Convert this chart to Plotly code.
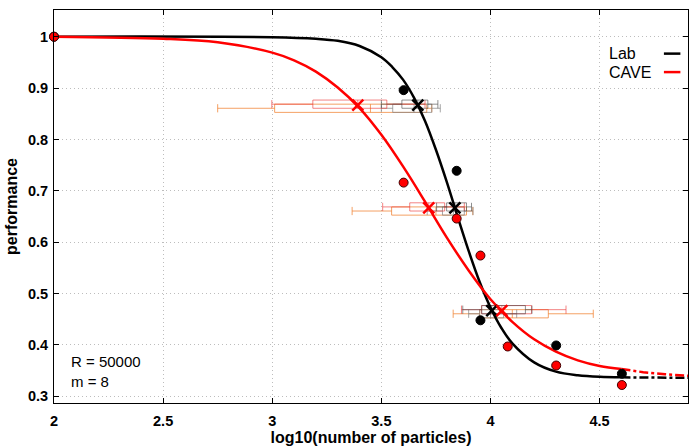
import plotly.graph_objects as go

# ---------------- data ----------------
x_ticks = [2, 2.5, 3, 3.5, 4, 4.5]
x_tick_labels = ["2", "2.5", "3", "3.5", "4", "4.5"]
y_ticks = [0.3, 0.4, 0.5, 0.6, 0.7, 0.8, 0.9, 1.0]
y_tick_labels = ["0.3", "0.4", "0.5", "0.6", "0.7", "0.8", "0.9", "1"]

# measured points
lab_x = [2.0, 3.602, 3.845, 3.954, 4.301, 4.602]
lab_y = [1.0, 0.896, 0.739, 0.448, 0.399, 0.344]
cave_x = [2.0, 3.602, 3.845, 3.954, 4.079, 4.301, 4.602]
cave_y = [1.0, 0.716, 0.646, 0.574, 0.397, 0.360, 0.322]

# fitted curves
lab_fit_x = [2.0, 3.0, 3.2, 3.3, 3.4, 3.5, 3.55, 3.6, 3.65, 3.7, 3.75, 3.8, 3.85,
             3.9, 3.95, 4.0, 4.05, 4.1, 4.2, 4.3, 4.4, 4.5, 4.6]
lab_fit_y = [1.0, 0.999, 0.996, 0.992, 0.982, 0.960, 0.941, 0.916, 0.881, 0.836,
             0.780, 0.717, 0.649, 0.583, 0.523, 0.473, 0.433, 0.403, 0.366, 0.348,
             0.341, 0.338, 0.337]
lab_ext_x = [4.6, 4.75, 4.905]
lab_ext_y = [0.337, 0.336, 0.336]

cave_fit_x = [2.0, 2.5, 2.75, 3.0, 3.1, 3.2, 3.3, 3.4, 3.5, 3.6, 3.7, 3.8, 3.9,
              4.0, 4.1, 4.2, 4.3, 4.4, 4.5, 4.6]
cave_fit_y = [1.0, 0.996, 0.989, 0.969, 0.954, 0.932, 0.901, 0.861, 0.809, 0.747,
              0.679, 0.609, 0.545, 0.489, 0.445, 0.411, 0.387, 0.370, 0.359, 0.353]
cave_ext_x = [4.6, 4.7, 4.8, 4.905]
cave_ext_y = [0.353, 0.347, 0.343, 0.340]

# threshold levels and estimated thresholds (crosses)
levels = [0.8667, 0.6667, 0.4667]
lab_thr_x = [3.667, 3.837, 4.006]
cave_thr_x = [3.392, 3.717, 4.052]

# box summaries at each level
lab_a_lo = [3.50, 3.753, 3.873]
lab_a_q1 = [3.594, 3.799, 3.960]
lab_a_med = [3.667, 3.837, 4.006]
lab_a_q3 = [3.713, 3.890, 4.160]
lab_a_hi = [3.759, 3.913, 4.190]

lab_b_lo = [3.50, 3.71, 3.90]
lab_b_q1 = [3.552, 3.78, 3.95]
lab_b_med = [3.65, 3.83, 4.00]
lab_b_q3 = [3.731, 3.88, 4.06]
lab_b_hi = [3.77, 3.92, 4.12]

cave_a_lo = [2.998, 3.506, 3.867]
cave_a_q1 = [3.186, 3.630, 3.959]
cave_a_med = [3.392, 3.717, 4.052]
cave_a_q3 = [3.525, 3.790, 4.188]
cave_a_hi = [3.70, 3.88, 4.346]

cave_b_lo = [2.750, 3.366, 3.829]
cave_b_q1 = [3.011, 3.547, 3.951]
cave_b_med = [3.45, 3.75, 4.10]
cave_b_q3 = [3.708, 3.890, 4.265]
cave_b_hi = [3.731, 3.919, 4.471]

FONT = "Liberation Sans, Arial, sans-serif"

# ---------------- figure ----------------
fig = go.Figure()

def add_box(lo, q1, med, q3, hi, offset, color):
    fig.add_trace(go.Box(
        y=[lv + offset for lv in levels], lowerfence=lo, q1=q1, median=med, q3=q3,
        upperfence=hi, orientation="h", width=0.016, whiskerwidth=1,
        line=dict(color=color, width=1), fillcolor="rgba(0,0,0,0)",
        boxpoints=False, showlegend=False, hoverinfo="skip"))

add_box(cave_b_lo, cave_b_q1, cave_b_med, cave_b_q3, cave_b_hi, -0.006, "rgba(240,130,50,0.75)")
add_box(lab_b_lo, lab_b_q1, lab_b_med, lab_b_q3, lab_b_hi, -0.006, "rgba(130,130,130,0.7)")
add_box(cave_a_lo, cave_a_q1, cave_a_med, cave_a_q3, cave_a_hi, 0.002, "rgba(235,50,50,0.6)")
add_box(lab_a_lo, lab_a_q1, lab_a_med, lab_a_q3, lab_a_hi, 0.002, "rgba(70,70,70,0.6)")

# fitted curves
fig.add_trace(go.Scatter(x=lab_fit_x, y=lab_fit_y, mode="lines", line=dict(color="black", width=2.5, shape="spline"), showlegend=False))
fig.add_trace(go.Scatter(x=lab_ext_x, y=lab_ext_y, mode="lines", line=dict(color="black", width=2.5, dash="dashdot"), showlegend=False))
fig.add_trace(go.Scatter(x=cave_fit_x, y=cave_fit_y, mode="lines", line=dict(color="red", width=2.5, shape="spline"), showlegend=False))
fig.add_trace(go.Scatter(x=cave_ext_x, y=cave_ext_y, mode="lines", line=dict(color="red", width=2.5, dash="dashdot"), showlegend=False))

# measured points
fig.add_trace(go.Scatter(x=lab_x, y=lab_y, mode="markers", cliponaxis=False,
                         marker=dict(color="black", size=9, line=dict(color="black", width=1)), showlegend=False))
fig.add_trace(go.Scatter(x=cave_x, y=cave_y, mode="markers", cliponaxis=False,
                         marker=dict(color="red", size=9, line=dict(color="#400000", width=1)), showlegend=False))

# threshold crosses
fig.add_trace(go.Scatter(x=lab_thr_x, y=levels, mode="markers",
                         marker=dict(symbol="x-thin", size=11, line=dict(color="black", width=2.5)), showlegend=False))
fig.add_trace(go.Scatter(x=cave_thr_x, y=levels, mode="markers",
                         marker=dict(symbol="x-thin", size=11, line=dict(color="red", width=2.5)), showlegend=False))

# legend (text left, sample line right)
legend_entries = [("Lab", "black", 0.889), ("CAVE", "red", 0.842)]
for name, col, yp in legend_entries:
    fig.add_annotation(x=0.872, y=yp, xref="paper", yref="paper", text=name, showarrow=False,
                       xanchor="left", yanchor="middle",
                       font=dict(family=FONT, size=16, color="black"))
    fig.add_shape(type="line", xref="paper", yref="paper", x0=0.962, x1=0.988, y0=yp, y1=yp,
                  line=dict(color=col, width=2.5))

fig.add_annotation(x=0.023, y=0.08, xref="paper", yref="paper", text="R = 50000<br>m = 8",
                   showarrow=False, xanchor="left", yanchor="middle", align="left",
                   font=dict(family=FONT, size=15, color="black"))

axis_common = dict(showline=True, mirror="allticks", linecolor="black", linewidth=1,
                   ticks="inside", ticklen=5, tickcolor="black", automargin=False,
                   showgrid=True, gridcolor="#bdbdbd", griddash="1px,3px", gridwidth=1,
                   zeroline=False,
                   tickfont=dict(family=FONT, size=14.5, color="black", weight="bold"))

fig.update_xaxes(range=[2, 4.905], tickvals=x_ticks, ticktext=x_tick_labels,
                 ticklabelstandoff=5,
                 title=dict(text="log10(number of particles)", standoff=2,
                            font=dict(family=FONT, size=16, color="black", weight="bold")),
                 **axis_common)
fig.update_yaxes(range=[0.287, 1.052], tickvals=y_ticks, ticktext=y_tick_labels,
                 ticklabelstandoff=2,
                 title=dict(text="performance", standoff=6,
                            font=dict(family=FONT, size=16, color="black", weight="bold")),
                 **axis_common)

fig.update_layout(width=693, height=448, margin=dict(l=54, r=5, t=10, b=45, autoexpand=False),
                  plot_bgcolor="white", paper_bgcolor="white", boxmode="overlay",
                  showlegend=False)

fig.write_html("out.html", config={"displayModeBar": False},
               post_script="document.body.style.margin='0px';")
